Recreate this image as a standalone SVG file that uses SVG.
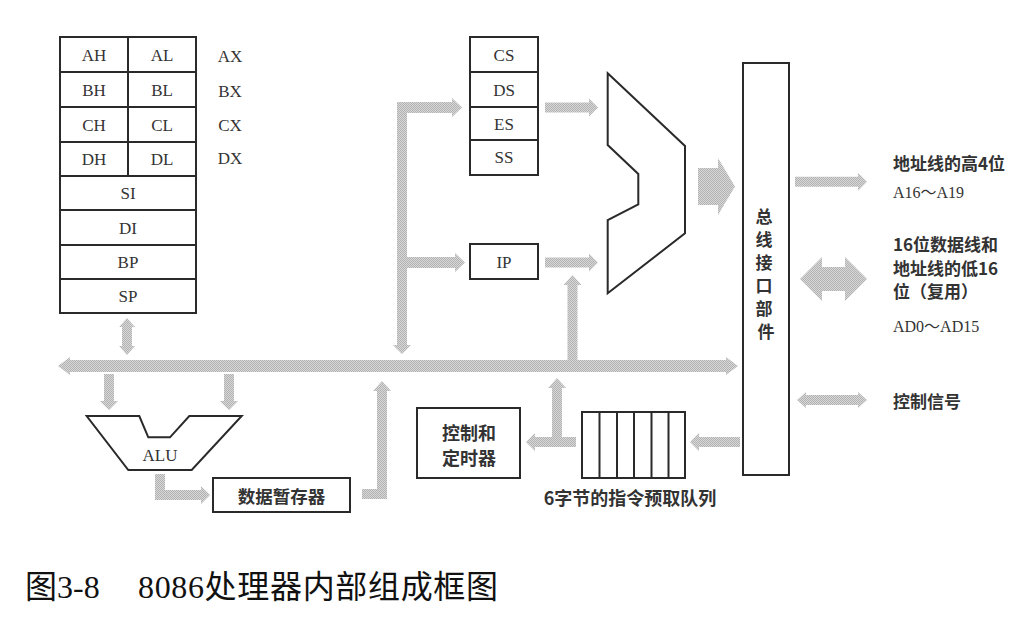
<svg xmlns="http://www.w3.org/2000/svg" width="1029" height="623" viewBox="0 0 1029 623">
<defs>
<pattern id="dots" width="2" height="2" patternUnits="userSpaceOnUse">
<rect width="2" height="2" fill="#d8d8d8"/>
<rect width="1" height="1" fill="#b2b2b2"/>
<rect x="1" y="1" width="1" height="1" fill="#b2b2b2"/>
</pattern>
</defs>
<style>
.box{fill:#fff;stroke:#2a2a2a;stroke-width:2}
.ln{stroke:#2a2a2a;stroke-width:2;fill:none}
.arr{fill:url(#dots);stroke:none}
.r{font-family:"Liberation Serif","Noto Sans CJK SC",serif;font-size:17px;fill:#333;text-anchor:middle;dominant-baseline:central}
.rl{font-family:"Liberation Serif","Noto Sans CJK SC",serif;font-size:16px;fill:#333;dominant-baseline:central}
.c{font-family:"Noto Sans CJK SC",sans-serif;font-size:17px;font-weight:bold;fill:#333;dominant-baseline:central}
.cm{text-anchor:middle}
.cap{font-family:"Liberation Serif","Noto Sans CJK SC",serif;font-size:32px;fill:#111}
</style>
<rect width="1029" height="623" fill="#fff"/>

<g id="connectors">
<polygon class="arr" points="58,366 70,357 70,360 726,360 726,357 738,366 726,375 726,372 70,372 70,375"/>
<polygon class="arr" points="127,318 135,327 132,327 132,346 135,346 127,355 119,346 122,346 122,327 119,327"/>
<polygon class="arr" points="104,374 114,374 114,401 118,401 109,410 100,401 104,401"/>
<polygon class="arr" points="224,374 234,374 234,401 238,401 229,410 220,401 224,401"/>
<polygon class="arr" points="155,474 165,474 165,490 201,490 201,486 210,495 201,504 201,500 155,500"/>
<polygon class="arr" points="362,489 377,489 377,391 373,391 382,381 391,391 387,391 387,499 362,499"/>
<polygon class="arr" points="397,102 452,102 452,98 462,107.5 452,117 452,113 407,113 407,257 455,257 455,253 465,262.5 455,272 455,268 407,268 407,345 411,345 402,354 393,345 397,345"/>
<polygon class="arr" points="545,102.5 589,102.5 589,98.5 598,107.5 589,116.5 589,112.5 545,112.5"/>
<polygon class="arr" points="545,257.5 589,257.5 589,253.5 598,262.5 589,271.5 589,267.5 545,267.5"/>
<polygon class="arr" points="567.5,360 567.5,285 563.5,285 572.5,275 581.5,285 577.5,285 577.5,360"/>
<polygon class="arr" points="698,168 718,168 718,158 735,186.5 718,215 718,205 698,205"/>
<polygon class="arr" points="795,176.7 858,176.7 858,172.7 867,181.7 858,190.7 858,186.7 795,186.7"/>
<polygon class="arr" points="800,279 822,257 822,267 845,267 845,257 867,279 845,301 845,291 822,291 822,301"/>
<polygon class="arr" points="797,400 806,392 806,395 858,395 858,392 867,400 858,408 858,405 806,405 806,408"/>
<polygon class="arr" points="740,437 699,437 699,433 690,442 699,451 699,447 740,447"/>
<polygon class="arr" points="576,437 562,437 562,388 566,388 557,378 548,388 552,388 552,437 535,437 535,433 526,442 535,451 535,447 576,447"/>
</g>

<g id="general-registers">
<rect class="box" x="60" y="37" width="136" height="276"/>
<path class="ln" d="M60 72H196M60 107H196M60 142H196M60 176H196M60 210H196M60 245H196M60 279H196M128 37V176"/>
<text class="r" x="94" y="55">AH</text>
<text class="r" x="162" y="55">AL</text>
<text class="r" x="94" y="90">BH</text>
<text class="r" x="162" y="90">BL</text>
<text class="r" x="94" y="125">CH</text>
<text class="r" x="162" y="125">CL</text>
<text class="r" x="94" y="159">DH</text>
<text class="r" x="162" y="159">DL</text>
<text class="r" x="128" y="193">SI</text>
<text class="r" x="128" y="228">DI</text>
<text class="r" x="128" y="262">BP</text>
<text class="r" x="128" y="296">SP</text>
</g>
<g id="register-names">
<text class="r" x="230" y="56">AX</text>
<text class="r" x="230" y="91">BX</text>
<text class="r" x="230" y="125">CX</text>
<text class="r" x="230" y="158">DX</text>
</g>

<g id="segment-registers">
<rect class="box" x="470" y="37" width="68" height="138"/>
<path class="ln" d="M470 72H538M470 107H538M470 140H538"/>
<text class="r" x="504" y="55">CS</text>
<text class="r" x="504" y="90">DS</text>
<text class="r" x="504" y="124">ES</text>
<text class="r" x="504" y="157">SS</text>
</g>

<g id="ip">
<rect class="box" x="470" y="244" width="68" height="35"/>
<text class="r" x="504" y="262">IP</text>
</g>

<g id="adder">
<polygon class="box" points="607.7,73.3 685,146 685,233.3 607.7,293.3 607.7,220 638.3,204.3 638.3,174 607.7,145"/>
</g>

<g id="alu">
<polygon class="box" points="86.7,416 139.3,416 148.3,437.3 170,437.3 189.3,416 241.7,416 191.7,470 128.3,470"/>
<text class="r" x="160" y="455">ALU</text>
</g>

<g id="temp-register">
<rect class="box" x="213" y="478" width="137" height="34"/>
<text class="c cm" x="281.5" y="495" style="font-size:17.5px">数据暂存器</text>
</g>

<g id="control-timing">
<rect class="box" x="417" y="408" width="103" height="70"/>
<text class="c cm" x="469" y="432" style="font-size:18px">控制和</text>
<text class="c cm" x="469" y="457" style="font-size:18px">定时器</text>
</g>

<g id="queue">
<rect class="box" x="582" y="412" width="103" height="66"/>
<path class="ln" d="M599.5 412V478M617 412V478M634 412V478M651.5 412V478M668.5 412V478"/>
<text class="c cm" x="630" y="497" style="font-size:18px">6字节的指令预取队列</text>
</g>

<g id="biu">
<rect class="box" x="743" y="63" width="46" height="412"/>
<text class="c cm" x="766">
<tspan x="766" y="215">总</tspan>
<tspan x="766" y="238">线</tspan>
<tspan x="766" y="261">接</tspan>
<tspan x="766" y="284">口</tspan>
<tspan x="766" y="307">部</tspan>
<tspan x="766" y="330">件</tspan>
</text>
</g>

<g id="external-labels">
<text class="c" x="893" y="162">地址线的高4位</text>
<text class="rl" x="893" y="192">A16～A19</text>
<text class="c" x="893" y="243">16位数据线和</text>
<text class="c" x="893" y="267">地址线的低16</text>
<text class="c" x="893" y="290">位（复用）</text>
<text class="rl" x="893" y="326">AD0～AD15</text>
<text class="c" x="893" y="400">控制信号</text>
</g>

<g id="caption">
<text class="cap" x="25" y="598">图3-8</text>
<text class="cap" x="138" y="598" textLength="360" lengthAdjust="spacing">8086处理器内部组成框图</text>
</g>
</svg>
